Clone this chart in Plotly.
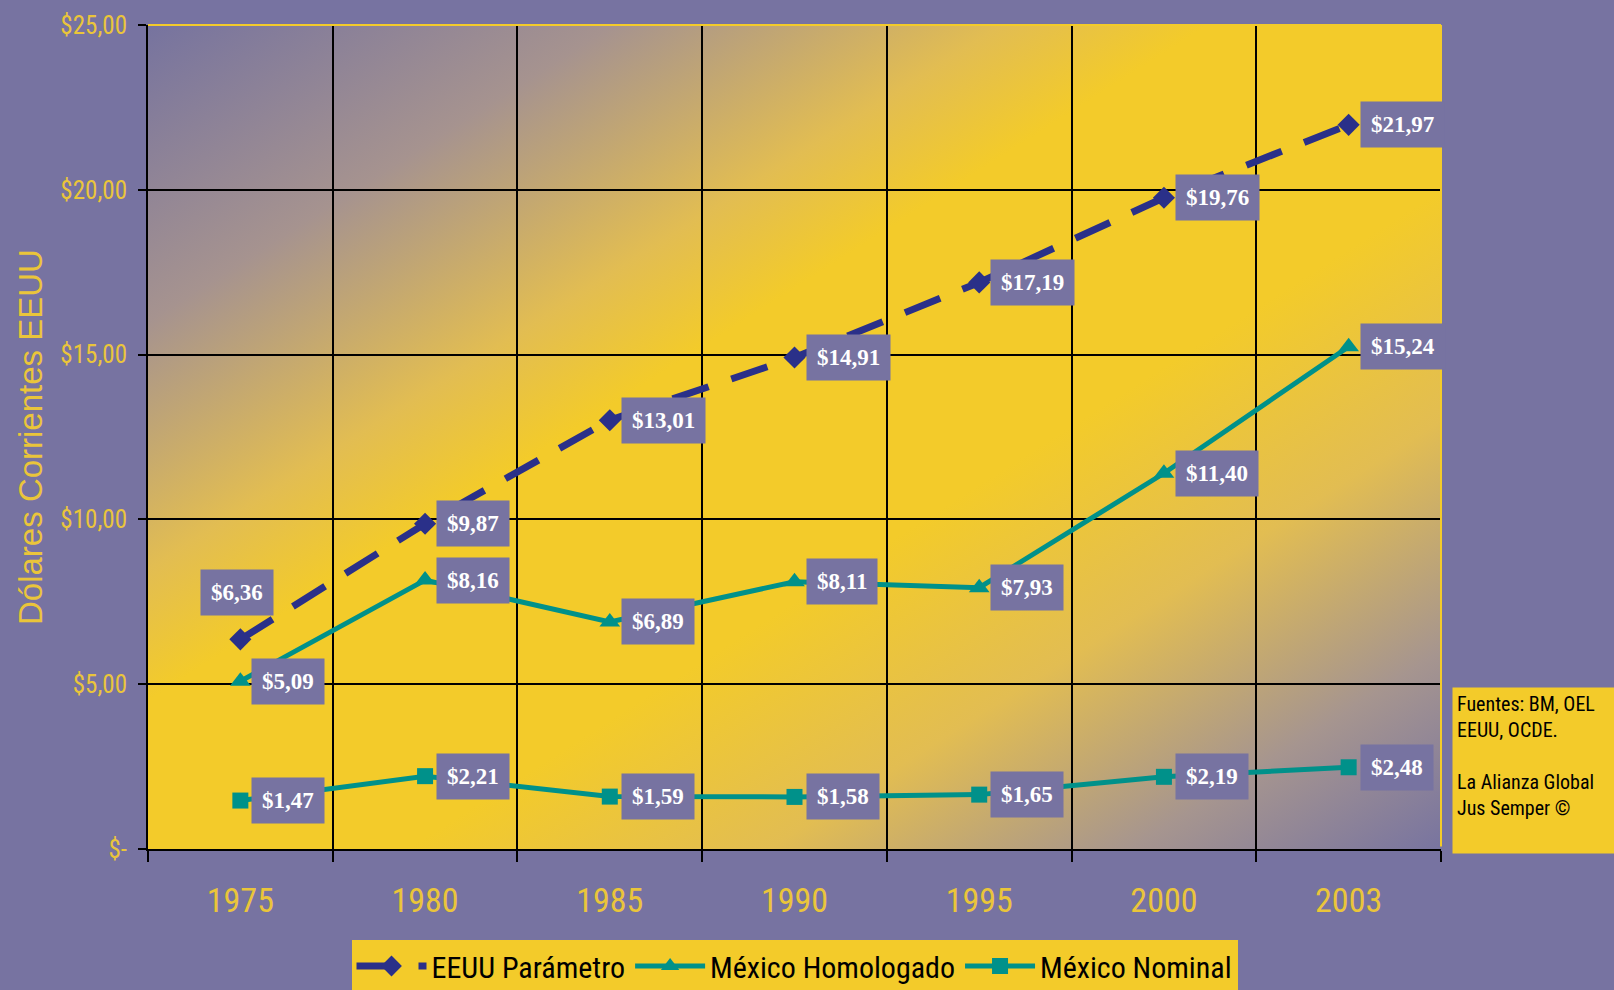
import base64
import plotly.graph_objects as go

# ---- data ----
years = ["1975", "1980", "1985", "1990", "1995", "2000", "2003"]
eeuu_parametro = [6.36, 9.87, 13.01, 14.91, 17.19, 19.76, 21.97]
mexico_homologado = [5.09, 8.16, 6.89, 8.11, 7.93, 11.40, 15.24]
mexico_nominal = [1.47, 2.21, 1.59, 1.58, 1.65, 2.19, 2.48]
y_tick_vals = [0, 5, 10, 15, 20, 25]
y_tick_text = ["$-", "$5,00", "$10,00", "$15,00", "$20,00", "$25,00"]
series_names = ["EEUU Parámetro", "México Homologado", "México Nominal"]
source_text = "Fuentes: BM, OEL<br>EEUU, OCDE.<br><br>La Alianza Global<br>Jus Semper ©"
y_title = "Dólares Corrientes EEUU"

# ---- style ----
BG = "#7773A1"
YEL = "#F3CB2A"
TXT_YEL = "#EAC53A"
NAVY = "#2A3089"
TEAL = "#00918A"
NARROW = "Liberation Sans Narrow, Arial Narrow, Roboto Condensed, sans-serif"
SERIF = "Liberation Serif, DejaVu Serif, serif"

W, H = 1614, 990
ML, MR, MT, MB = 148, 173, 25, 141
PW, PH = W - ML - MR, H - MT - MB

fig = go.Figure()
fig.add_trace(go.Scatter(
    x=years, y=eeuu_parametro, name=series_names[0], mode="lines+markers",
    line=dict(color=NAVY, width=7, dash="38px,24px"),
    marker=dict(symbol="diamond", size=17, color=NAVY)))
fig.add_trace(go.Scatter(
    x=years, y=mexico_homologado, name=series_names[1], mode="lines+markers",
    line=dict(color=TEAL, width=5),
    marker=dict(symbol="triangle-up", size=18, color=TEAL)))
fig.add_trace(go.Scatter(
    x=years, y=mexico_nominal, name=series_names[2], mode="lines+markers",
    line=dict(color=TEAL, width=5),
    marker=dict(symbol="square", size=16, color=TEAL)))


def fmt(v):
    return "$" + f"{v:.2f}".replace(".", ",")


annotations = []
for si, series in enumerate((eeuu_parametro, mexico_homologado, mexico_nominal)):
    for i, v in enumerate(series):
        a = dict(x=i, y=v, xref="x", yref="y", text="<b>" + fmt(v) + "</b>",
                 showarrow=False, bgcolor=BG, borderpad=10,
                 font=dict(family=SERIF, size=23, color="white"),
                 xanchor="left", yanchor="middle", xshift=11)
        if si == 0 and i == 0:
            a.update(xanchor="center", xshift=-3, yshift=47)
        annotations.append(a)

# y title
annotations.append(dict(
    x=(30 - ML) / PW, y=0.5, xref="paper", yref="paper",
    text=y_title, textangle=-90, showarrow=False, xanchor="center", yanchor="middle",
    font=dict(family="Liberation Sans, Arial, sans-serif", size=33, color=TXT_YEL)))

# source box
annotations.append(dict(
    x=(1452 - ML) / PW, y=(H - MB - 687) / PH,
    xref="paper", yref="paper", text=source_text, showarrow=False,
    xanchor="left", yanchor="top", align="left", valign="top",
    width=156, height=157, borderpad=4, bgcolor=YEL,
    font=dict(family=NARROW, size=20, color="black")))

# gradient background image for plot area
svg = (
    '<svg xmlns="http://www.w3.org/2000/svg" width="1293" height="824" '
    'viewBox="0 0 1293 824" preserveAspectRatio="none">'
    '<defs><linearGradient id="g" x1="0" y1="0" x2="1" y2="1">'
    '<stop offset="0" stop-color="#76739F"/>'
    '<stop offset="0.18" stop-color="#A6938F"/>'
    '<stop offset="0.33" stop-color="#E2BD52"/>'
    '<stop offset="0.41" stop-color="#F3CB2A"/>'
    '<stop offset="0.60" stop-color="#F3CB2A"/>'
    '<stop offset="0.74" stop-color="#E2BD52"/>'
    '<stop offset="0.88" stop-color="#A6958F"/>'
    '<stop offset="1" stop-color="#7874A0"/>'
    '</linearGradient></defs>'
    '<rect width="1293" height="824" fill="url(#g)"/></svg>'
)
src = "data:image/svg+xml;base64," + base64.b64encode(svg.encode()).decode()

fig.update_layout(
    width=W, height=H, autosize=False,
    margin=dict(l=ML, r=MR, t=MT, b=MB, pad=0, autoexpand=False),
    paper_bgcolor=BG, plot_bgcolor="rgba(0,0,0,0)",
    images=[dict(source=src, xref="paper", yref="paper", x=0, y=1, sizex=1, sizey=1,
                 xanchor="left", yanchor="top", sizing="stretch", layer="below")],
    annotations=annotations,
    showlegend=True,
    legend=dict(orientation="h", x=0.5, xanchor="center", y=(H - MB - 992) / PH,
                yanchor="bottom", bgcolor=YEL, font=dict(family=NARROW, size=30, color="black"),
                itemwidth=70, tracegroupgap=0),
    shapes=[
        dict(type="line", xref="paper", yref="paper", x0=0, x1=1, y0=1, y1=1,
             line=dict(color=YEL, width=2)),
        dict(type="line", xref="paper", yref="paper", x0=1, x1=1, y0=0.003, y1=1,
             line=dict(color=YEL, width=2)),
    ],
)
fig.update_xaxes(
    type="category", categoryorder="array", categoryarray=years, range=[-0.5, 6.5],
    tickson="boundaries", ticks="outside", ticklen=11, tickwidth=2, tickcolor="black",
    showgrid=True, gridcolor="black", gridwidth=2,
    showline=True, linecolor="black", linewidth=2, zeroline=False,
    tickfont=dict(family=NARROW, size=34, color=TXT_YEL), ticklabelstandoff=20)
fig.update_yaxes(
    range=[0, 25], tickvals=y_tick_vals, ticktext=y_tick_text,
    ticks="outside", ticklen=8, tickwidth=2, tickcolor="black",
    showgrid=True, gridcolor="black", gridwidth=2, zeroline=False,
    showline=True, linecolor="black", linewidth=2,
    tickfont=dict(family=NARROW, size=25, color=TXT_YEL), ticklabelstandoff=6)

fig.write_html("out.html", config={"displayModeBar": False},
               post_script="document.body.style.margin='0';document.body.style.padding='0';")
